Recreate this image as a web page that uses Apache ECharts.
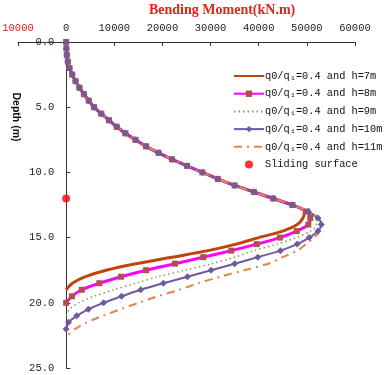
<!DOCTYPE html>
<html>
<head>
<meta charset="utf-8">
<script src="https://cdn.jsdelivr.net/npm/echarts@6/dist/echarts.min.js"></script>
<style>html,body{margin:0;padding:0;background:#fff;}#c{width:387px;height:375px;}</style>
</head>
<body>
<div id="c"></div>
<script>
// Depth (m), 0.5 m steps
var depth = [0,0.5,1,1.5,2,2.5,3,3.5,4,4.5,5,5.5,6,6.5,7,7.5,8,8.5,9,9.5,10,10.5,11,11.5,12,12.5,13,13.5,14,14.5,15,15.5,16,16.5,17,17.5,18,18.5,19,19.5,20,20.5,21,21.5,22,22.5];

// Bending moment (kN.m) for each case
var mH7  = [0,40,140,350,700,1250,1950,2750,3700,4700,5800,7300,8900,10500,12300,14400,16600,19200,22000,25100,28300,31500,35000,39000,43000,47000,
            49500,49200,48000,45000,40000,35300,29500,22000,14500,8300,4000,1300,0];
var mH8  = [0,40,140,350,700,1250,1950,2750,3700,4700,5800,7300,8900,10500,12300,14400,16600,19200,22000,25100,28300,31500,35000,39000,43000,47000,
            50000,50700,50300,47900,44400,39600,34300,28500,22600,16600,11400,6900,3250,1200,0];
var mH9  = [0,40,140,350,700,1250,1950,2750,3700,4700,5800,7300,8900,10500,12300,14400,16600,19200,22000,25100,28300,31500,35000,39000,43000,47000,
            50200,51800,52000,50800,47800,43800,39000,35000,30300,24800,19000,14500,9800,5800,2600,700,0];
var mH10 = [0,40,140,350,700,1250,1950,2750,3700,4700,5800,7300,8900,10500,12300,14400,16600,19200,22000,25100,28300,31500,35000,39000,43000,47000,
            50300,52300,53000,52300,50500,48000,44500,39800,35000,30100,25200,20200,15500,11500,7800,4600,2200,500,0];
var mH11 = [0,40,140,350,700,1250,1950,2750,3700,4700,5800,7300,8900,10500,12300,14400,16600,19200,22000,25100,28300,31500,35000,39000,43000,47000,
            50300,52500,53300,52700,51500,49800,48000,45000,42000,37000,32000,27500,23500,19000,15000,11300,7600,4300,1900,300];

var sliding = [[0, 12]];

var names = ['q0/q\u2081=0.4 and h=7m','q0/q\u2081=0.4 and h=8m','q0/q\u2081=0.4 and h=9m','q0/q\u2081=0.4 and h=10m','q0/q\u2081=0.4 and h=11m','Sliding surface'];

function pairs(m){ return m.map(function(v,i){ return [v, depth[i]]; }); }

var chart = echarts.init(document.getElementById('c'), null, {renderer:'canvas'});
chart.setOption({
  animation:false,
  backgroundColor:'#fff',
  grid:{left:18, right:32, top:42, bottom:7, containLabel:false, outerBoundsMode:'none'},
  xAxis:{
    type:'value', position:'top', min:-10000, max:60000, interval:10000,
    axisLine:{onZero:false, lineStyle:{color:'#333', width:1}},
    axisTick:{inside:true, length:4, lineStyle:{color:'#333'}},
    splitLine:{show:false},
    axisLabel:{margin:8, fontFamily:'Liberation Mono', fontSize:10.5,
      formatter:function(v){return String(Math.abs(v));},
      color:function(v){return Number(v)<0?'#e8201c':'#222';}}
  },
  yAxis:{
    type:'value', inverse:true, min:0, max:25, interval:5, position:'left', offset:-48.3,
    axisLine:{onZero:false, lineStyle:{color:'#333', width:1}},
    axisTick:{inside:true, length:4, lineStyle:{color:'#333'}},
    splitLine:{show:false},
    axisLabel:{margin:12, fontFamily:'Liberation Mono', fontSize:10.5, color:'#222',
      formatter:function(v){return v.toFixed(1);}}
  },
  legend:{
    orient:'vertical', left:233, top:71, padding:0, itemWidth:30, itemHeight:8, itemGap:7.7,
    textStyle:{fontFamily:'Liberation Mono', fontSize:10.3, color:'#111', padding:[0,0,0,-4]},
    data:[
      {name:names[0], itemStyle:{opacity:0}},
      {name:names[1]},
      {name:names[2], itemStyle:{opacity:0}},
      {name:names[3]},
      {name:names[4], itemStyle:{opacity:0}},
      {name:names[5]}
    ]
  },
  graphic:[
    {type:'text', x:149, y:3, style:{text:'Bending Moment(kN.m)', fill:'#e8201c', font:'bold 14px "Liberation Serif"'}},
    {type:'text', x:16, y:117, rotation:-Math.PI/2, style:{text:'Depth (m)', fill:'#111', font:'bold 10.5px "Liberation Sans"', textAlign:'center', textVerticalAlign:'middle'}}
  ],
  series:[
    {name:names[0], type:'line', data:pairs(mH7), smooth:0.3, symbol:'none',
     lineStyle:{color:'#c2410c', width:3}, itemStyle:{color:'#c2410c'}},
    {name:names[1], type:'line', data:pairs(mH8), smooth:0.3, symbol:'rect', symbolSize:6,
     lineStyle:{color:'#ff00ff', width:3}, itemStyle:{color:'#b0504a'}},
    {name:names[2], type:'line', data:pairs(mH9), smooth:0.3, symbol:'none',
     lineStyle:{color:'#7fa050', width:1.5, type:[1.5,3]}, itemStyle:{color:'#7fa050'}},
    {name:names[3], type:'line', data:pairs(mH10), smooth:0.3, symbol:'diamond', symbolSize:7,
     lineStyle:{color:'#6f5a9e', width:2}, itemStyle:{color:'#6f5a9e'}},
    {name:names[4], type:'line', data:pairs(mH11), smooth:0.3, symbol:'none',
     lineStyle:{color:'#e0884a', width:2, type:[8,5,2,5]}, itemStyle:{color:'#e0884a'}},
    {name:names[5], type:'scatter', data:sliding, symbol:'circle', symbolSize:8,
     itemStyle:{color:'#ff0000'}}
  ]
});
</script>
</body>
</html>
